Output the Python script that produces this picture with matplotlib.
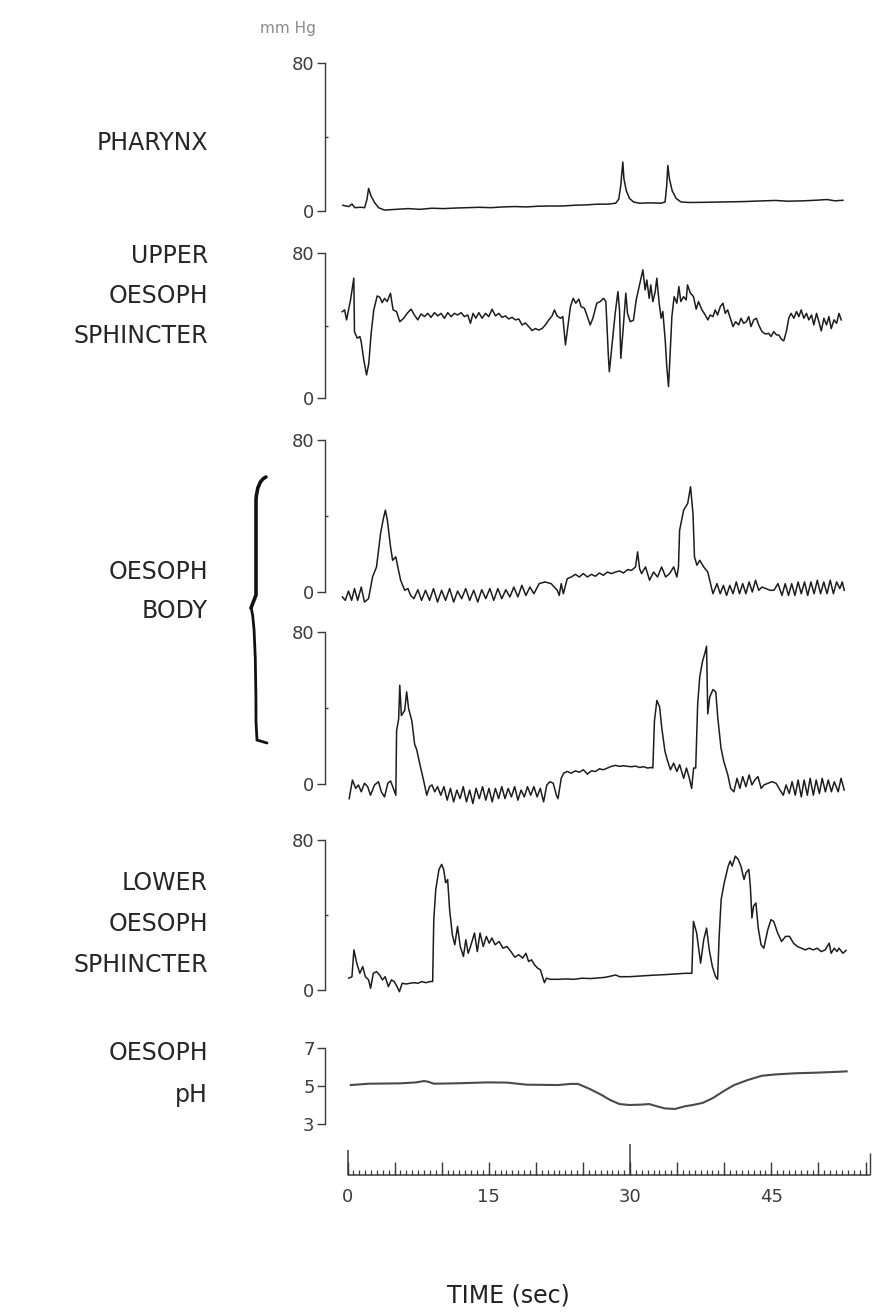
import numpy as np
import matplotlib
matplotlib.use("Agg")
import matplotlib.pyplot as plt
from matplotlib.path import Path
from matplotlib.patches import PathPatch

# ---------------- recorded traces (time in s, pressure in mm Hg / pH units) -------------
pharynx_t = [-0.49, -0.16, 0.14, 0.47, 0.77, 1.40, 1.82, 2.07, 2.24, 2.49, 2.87, 3.29, 3.92,
             5.17, 6.43, 7.69, 8.95, 10.21, 11.47, 12.73, 13.99, 15.24, 16.50, 17.76, 19.02,
             20.28, 21.54, 22.80, 24.06, 25.32, 26.58, 27.63, 28.47, 28.80, 29.01, 29.23, 29.35,
             29.60, 29.94, 30.36, 30.99, 32.04, 33.30, 33.72, 33.89, 34.01, 34.18, 34.47, 34.89,
             35.40, 36.23, 37.91, 40.01, 42.11, 44.20, 45.46, 46.72, 48.40, 49.66, 50.92, 51.76,
             52.60]
pharynx_p = [3.1, 2.7, 2.4, 3.8, 1.8, 2.0, 1.8, 6.4, 12.2, 8.2, 4.6, 1.8, 0.5,
             0.9, 1.3, 0.9, 1.5, 1.3, 1.6, 1.8, 2.0, 1.8, 2.2, 2.4, 2.2,
             2.6, 2.7, 2.7, 3.1, 3.3, 3.7, 3.7, 4.2, 6.4, 13.7, 26.5, 17.3,
             11.0, 6.8, 4.9, 4.2, 4.4, 4.2, 4.9, 13.7, 24.6, 17.3, 11.0, 6.8,
             4.9, 4.6, 4.7, 4.9, 5.1, 5.5, 5.7, 5.3, 5.5, 5.8, 6.2, 5.5,
             5.8]

ues_t = [-0.56, -0.31, -0.10, 0.14, 0.32, 0.67, 0.74, 1.03, 1.31, 1.45, 1.73, 2.02, 2.26,
         2.51, 2.79, 3.15, 3.43, 3.68, 3.93, 4.21, 4.56, 4.84, 5.20, 5.55, 5.97, 6.33, 6.75,
         7.10, 7.46, 7.81, 8.17, 8.52, 8.87, 9.23, 9.58, 9.93, 10.29, 10.64, 11.00, 11.35,
         11.70, 12.06, 12.41, 12.77, 13.05, 13.33, 13.62, 13.94, 14.29, 14.65, 15.00, 15.35,
         15.71, 16.06, 16.41, 16.77, 17.12, 17.47, 17.83, 18.18, 18.54, 18.89, 19.24, 19.60,
         19.95, 20.30, 20.66, 21.01, 21.37, 21.72, 21.97, 22.25, 22.61, 22.86, 23.14, 23.39,
         23.67, 23.96, 24.24, 24.56, 24.80, 25.16, 25.77, 26.05, 26.47, 26.83, 27.18, 27.43,
         27.70, 27.80, 28.07, 28.42, 28.71, 28.88, 29.02, 29.23, 29.55, 29.73, 30.01, 30.36,
         30.65, 31.00, 31.36, 31.60, 31.78, 32.03, 32.20, 32.42, 32.66, 32.84, 33.09, 33.30,
         33.48, 33.73, 33.90, 34.08, 34.19, 34.44, 34.68, 34.97, 35.18, 35.39, 35.68, 35.96,
         36.10, 36.39, 36.74, 37.02, 37.27, 37.63, 37.98, 38.26, 38.51, 38.80, 39.04, 39.29,
         39.58, 39.86, 40.11, 40.36, 40.64, 40.93, 41.21, 41.53, 41.78, 42.06, 42.35, 42.60,
         42.84, 43.13, 43.41, 43.66, 44.01, 44.37, 44.72, 44.97, 45.25, 45.54, 45.79, 46.07,
         46.32, 46.61, 46.85, 47.10, 47.39, 47.67, 47.92, 48.17, 48.45, 48.73, 48.98, 49.27,
         49.51, 49.80, 50.05, 50.30, 50.58, 50.86, 51.11, 51.36, 51.65, 51.93, 52.18, 52.42]
ues_p = [47.6, 48.6, 43.1, 49.5, 54.1, 66.1, 36.6, 33.0, 33.9, 31.1, 21.0, 12.7, 19.1,
         35.7, 48.6, 56.3, 55.6, 52.6, 55.0, 53.2, 57.8, 48.6, 47.7, 42.1, 44.0, 46.7, 49.0,
         45.8, 43.1, 46.4, 44.9, 46.7, 44.5, 47.1, 45.3, 46.7, 44.0, 47.1, 44.9, 46.7,
         45.8, 47.1, 44.9, 45.8, 41.2, 46.7, 44.0, 47.1, 44.0, 46.7, 44.9, 49.0,
         45.3, 46.7, 44.5, 45.3, 43.6, 44.5, 43.1, 43.6, 40.3, 41.4, 39.4, 37.2,
         38.3, 37.5, 38.3, 40.3, 43.1, 45.3, 48.6, 45.3, 44.0, 44.9, 29.3, 39.4,
         50.4, 55.0, 52.3, 54.5, 50.4, 49.5, 40.3, 44.0, 52.3, 53.2, 55.0, 53.2,
         22.8, 14.5, 28.3, 46.7, 58.7, 48.6, 21.9, 35.7, 57.8, 46.7, 42.1, 42.9,
         54.1, 62.4, 70.7, 59.6, 65.1, 55.0, 62.4, 53.2, 58.3, 66.1, 52.3, 44.0,
         47.7, 32.0, 17.3, 6.3, 17.3, 44.9, 55.9, 52.3, 61.5, 53.2, 55.9, 54.1,
         62.4, 58.0, 55.9, 49.0, 53.2, 48.6, 45.8, 43.1, 45.8, 44.9, 48.6, 45.8,
         50.4, 52.3, 46.7, 48.6, 44.0, 39.4, 42.1, 40.3, 44.0, 41.2, 42.1, 44.9,
         39.4, 43.1, 44.0, 40.3, 36.6, 35.3, 35.7, 33.9, 36.6, 34.8, 34.8, 32.4,
         31.5, 37.0, 44.0, 46.7, 44.0, 47.7, 44.9, 48.6, 44.0, 46.7, 43.1, 45.8,
         40.3, 46.7, 42.1, 37.0, 44.0, 40.3, 44.9, 38.3, 43.1, 41.2, 46.7, 43.1]

body_up_t = [-0.54, -0.24, 0.10, 0.44, 0.74, 1.08, 1.46, 1.80, 2.23, 2.66, 3.08, 3.51, 3.81,
             4.02, 4.23, 4.57, 4.79, 5.13, 5.34, 5.64, 6.07, 6.41, 6.71, 7.05, 7.47, 7.86,
             8.28, 8.71, 9.13, 9.56, 9.99, 10.41, 10.84, 11.27, 11.69, 12.12, 12.55, 12.97,
             13.40, 13.83, 14.25, 14.68, 15.11, 15.53, 15.96, 16.38, 16.81, 17.24, 17.66,
             18.09, 18.51, 18.94, 19.37, 19.79, 20.35, 20.98, 21.62, 22.27, 22.48, 22.69,
             22.91, 23.33, 23.76, 24.19, 24.61, 25.04, 25.47, 25.89, 26.32, 26.75, 27.17,
             27.60, 28.02, 28.45, 28.88, 29.30, 29.73, 30.16, 30.58, 30.80, 31.01, 31.22,
             31.64, 32.07, 32.50, 32.92, 33.35, 33.78, 34.20, 34.63, 34.97, 35.14, 35.26,
             35.69, 36.12, 36.42, 36.68, 36.84, 37.10, 37.40, 37.82, 38.25, 38.55, 38.80,
             39.23, 39.57, 39.91, 40.25, 40.59, 40.93, 41.28, 41.62, 41.96, 42.30, 42.64,
             42.98, 43.32, 43.66, 44.00, 44.43, 44.85, 45.28, 45.70, 46.13, 46.47, 46.82,
             47.16, 47.50, 47.84, 48.18, 48.52, 48.86, 49.20, 49.54, 49.88, 50.23, 50.57,
             50.91, 51.25, 51.59, 51.93, 52.27, 52.53, 52.74]
body_up_p = [-2.6, -4.4, 0.5, -4.4, 1.8, -4.4, 2.6, -5.3, -3.5, 7.9, 13.2, 30.8, 38.7,
             43.1, 37.8, 23.7, 16.7, 18.5, 13.2, 6.2, 0.9, 1.8, -1.8, -3.5, 1.2, -4.4,
             0.9, -4.4, 1.8, -5.3, 0.9, -4.4, 1.8, -5.3, 0.5, -3.5, 1.8, -4.4,
             0.9, -5.3, 1.2, -3.5, 1.8, -4.4, 1.8, -3.5, 1.2, -2.6, 2.6,
             -2.6, 3.5, -1.8, 2.6, -0.9, 4.4, 5.3, 4.4, 0.9, -1.8, 4.4,
             -0.9, 7.0, 7.9, 9.3, 7.9, 9.7, 7.9, 9.3, 8.3, 10.0, 8.8,
             10.5, 9.7, 10.5, 11.1, 10.0, 11.8, 11.4, 13.2, 21.1, 12.3, 9.7,
             13.2, 6.2, 10.5, 7.9, 13.2, 7.9, 9.7, 13.2, 7.9, 13.2, 32.5,
             43.1, 46.6, 55.4, 41.3, 18.5, 14.1, 16.7, 13.2, 10.5, 4.4, -0.9,
             4.4, -0.9, 3.5, -1.8, 3.5, -0.9, 5.3, -0.9, 4.4, -0.9, 5.3,
             0.0, 6.2, 0.9, 2.6, 1.8, 0.9, 0.9, 4.4, -1.8, 4.4, -1.8,
             4.4, -1.8, 5.3, -0.9, 5.3, -1.8, 5.3, -0.9, 6.2, -0.9, 5.3,
             -0.9, 6.2, -0.9, 5.3, 1.8, 5.3, 0.9]

body_lo_t = [0.18, 0.52, 0.87, 1.16, 1.46, 1.80, 2.14, 2.44, 2.87, 3.29, 3.59, 3.93, 4.28,
             4.57, 4.87, 5.13, 5.21, 5.43, 5.55, 5.72, 6.07, 6.28, 6.49, 6.83, 7.13, 7.34,
             7.69, 8.11, 8.41, 8.71, 8.97, 9.26, 9.56, 9.90, 10.24, 10.58, 10.93, 11.27,
             11.61, 11.95, 12.29, 12.63, 12.97, 13.31, 13.65, 13.99, 14.34, 14.68, 15.02,
             15.36, 15.70, 16.04, 16.38, 16.72, 17.06, 17.40, 17.75, 18.09, 18.43, 18.77,
             19.11, 19.45, 19.79, 20.13, 20.47, 20.82, 21.16, 21.50, 21.84, 22.18, 22.35,
             22.52, 22.69, 22.95, 23.33, 23.76, 24.19, 24.61, 25.04, 25.47, 25.89, 26.32,
             26.75, 27.17, 27.60, 28.02, 28.45, 28.88, 29.30, 29.73, 30.16, 30.58, 31.01,
             31.43, 31.86, 32.29, 32.42, 32.59, 32.85, 33.14, 33.36, 33.70, 34.00, 34.29,
             34.63, 34.97, 35.26, 35.69, 35.99, 36.25, 36.54, 36.75, 36.97, 37.18, 37.40,
             37.69, 37.95, 38.12, 38.25, 38.46, 38.80, 39.10, 39.31, 39.65, 39.95, 40.38,
             40.68, 41.02, 41.36, 41.66, 41.96, 42.30, 42.64, 42.94, 43.24, 43.58, 43.92,
             44.22, 44.64, 45.07, 45.50, 45.92, 46.27, 46.56, 46.90, 47.20, 47.54, 47.84,
             48.18, 48.48, 48.82, 49.12, 49.46, 49.76, 50.10, 50.40, 50.74, 51.04, 51.38,
             51.68, 52.10, 52.40, 52.74]
body_lo_p = [-7.7, 2.1, -2.3, -0.5, -4.1, 0.4, -1.4, -5.9, -0.5, 1.2, -4.1, -6.8, 0.4,
             1.6, -2.3, -5.9, 28.0, 34.2, 52.0, 36.0, 38.7, 48.5, 39.6, 33.3, 20.8, 18.2,
             10.2, 1.2, -5.9, -1.4, -0.5, -4.1, -1.4, -5.9, -1.4, -8.5, -2.3, -9.4,
             -3.2, -7.7, -1.4, -9.4, -3.2, -10.3, -2.3, -7.7, -1.4, -8.5, -2.3,
             -9.4, -2.3, -7.7, -1.4, -7.7, -2.3, -6.8, -1.4, -8.5, -3.2, -6.8,
             -1.4, -5.9, -1.4, -6.8, -2.3, -9.4, -0.5, 1.2, 0.4, -5.9, -7.7,
             -2.3, 3.0, 5.7, 6.6, 5.7, 6.9, 6.2, 7.5, 5.2, 6.9, 6.6,
             8.0, 7.5, 8.4, 9.3, 9.8, 9.3, 9.6, 9.3, 9.1, 9.4, 8.7,
             9.1, 8.4, 8.7, 8.4, 33.3, 44.0, 40.5, 29.8, 17.3, 11.9, 7.5,
             11.0, 6.6, 10.2, 3.0, 8.4, 3.9, -2.3, 8.4, 8.4, 42.2, 56.5,
             64.5, 69.0, 72.5, 36.9, 45.8, 49.7, 48.5, 35.1, 19.1, 11.9, 4.8,
             -2.3, -4.1, 3.0, -2.3, 3.9, -1.4, 4.8, -0.5, 2.1, 3.9, -2.3,
             -0.5, 0.4, 1.2, 0.4, -3.2, -5.9, -0.5, -5.0, 1.2, -5.9, 2.1,
             -6.8, 2.1, -5.9, 3.0, -5.9, 2.1, -5.0, 3.0, -4.1, 2.1, -4.1,
             1.2, -4.1, 3.0, -3.2]

les_t = [0.14, 0.47, 0.68, 0.98, 1.31, 1.61, 1.90, 2.24, 2.45, 2.74, 3.08, 3.41, 3.71,
         4.00, 4.34, 4.67, 4.96, 5.26, 5.51, 5.80, 6.22, 6.64, 7.06, 7.48, 7.90, 8.32,
         8.74, 9.04, 9.16, 9.37, 9.71, 10.00, 10.21, 10.42, 10.63, 10.84, 11.13, 11.39,
         11.68, 11.97, 12.31, 12.56, 12.81, 13.06, 13.48, 13.78, 14.07, 14.41, 14.74,
         15.04, 15.33, 15.67, 16.09, 16.51, 16.93, 17.35, 17.76, 18.18, 18.60, 18.94,
         19.23, 19.53, 19.86, 20.20, 20.49, 20.70, 20.91, 21.12, 21.54, 22.38, 23.22,
         24.06, 24.90, 25.74, 26.58, 27.42, 28.47, 28.89, 29.94, 31.20, 32.46, 33.72,
         34.98, 35.81, 36.56, 36.73, 37.07, 37.49, 37.82, 38.12, 38.41, 38.74, 39.08,
         39.29, 39.46, 39.67, 40.00, 40.42, 40.63, 40.84, 41.18, 41.47, 41.77, 42.10,
         42.31, 42.61, 42.77, 42.94, 43.11, 43.36, 43.61, 43.91, 44.20, 44.62, 44.96,
         45.25, 45.67, 46.09, 46.51, 46.93, 47.35, 47.77, 48.19, 48.61, 49.03, 49.45,
         49.87, 50.30, 50.72, 51.14, 51.35, 51.68, 51.97, 52.18, 52.60, 52.93]
les_p = [6.3, 7.1, 21.4, 14.3, 8.9, 12.5, 7.1, 5.4, 0.9, 8.9, 9.8, 8.0, 5.4,
         7.1, 1.8, 5.4, 4.5, 1.8, -0.9, 3.6, 3.2, 3.6, 3.9, 3.6, 4.5, 3.9,
         4.5, 4.5, 37.5, 53.6, 64.3, 67.0, 64.3, 57.2, 58.9, 42.9, 29.5, 24.1,
         33.9, 23.2, 17.9, 26.8, 19.6, 23.2, 30.4, 20.5, 30.4, 23.2, 28.6,
         25.0, 27.7, 24.1, 25.9, 22.3, 23.2, 20.5, 17.5, 18.8, 17.0, 19.6,
         15.2, 16.1, 13.4, 11.6, 10.7, 7.1, 3.9, 6.3, 5.7, 5.7, 5.9,
         5.7, 6.3, 6.1, 6.4, 6.8, 8.0, 7.1, 7.1, 7.5, 7.9, 8.2,
         8.6, 8.9, 8.9, 36.6, 30.4, 14.3, 26.8, 33.0, 21.4, 12.5, 7.1,
         5.7, 28.6, 48.2, 57.2, 66.1, 68.8, 66.1, 71.4, 69.7, 66.1, 58.9,
         62.5, 64.3, 55.4, 38.4, 44.7, 46.4, 33.0, 24.1, 22.3, 32.1, 37.5,
         36.6, 30.4, 25.9, 28.6, 28.6, 25.0, 23.2, 22.3, 21.4, 22.3, 21.4,
         22.3, 20.5, 21.4, 25.0, 19.6, 22.3, 20.5, 22.3, 19.6, 21.1]

ph_t = [0.35, 2.24, 5.60, 7.28, 8.12, 8.54, 9.17, 11.47, 14.83, 16.92, 19.02, 22.37, 23.63,
        24.47, 25.74, 26.97, 27.82, 28.87, 29.92, 31.19, 32.03, 32.86, 33.71, 34.76, 35.81,
        36.65, 37.70, 38.74, 40.00, 41.05, 42.52, 43.99, 45.46, 47.56, 49.66, 51.76, 53.00]
ph_v = [5.05, 5.12, 5.14, 5.19, 5.26, 5.23, 5.12, 5.14, 5.19, 5.18, 5.07, 5.05, 5.11,
        5.11, 4.84, 4.53, 4.28, 4.05, 4.00, 4.02, 4.05, 3.93, 3.82, 3.79, 3.93,
        4.00, 4.11, 4.35, 4.75, 5.05, 5.32, 5.54, 5.61, 5.67, 5.70, 5.74, 5.77]

pressure_ticks = [0, 80]
ph_ticks = [3, 5, 7]
time_labels = [0, 15, 30, 45]

# ---------------- figure layout (pixel geometry of an 874 x 1316 page) -------------
W, H = 874, 1316
fig = plt.figure(figsize=(W / 100, H / 100), dpi=100)
fig.patch.set_facecolor("white")

T_LEFT, T_RIGHT = -2.39, 55.9          # time span covered by the panel width
AX_L = 325 / W
AX_W = 1 - AX_L
INK = "#1d1d1d"
GREY = "#3a3a3a"


def fy(px):
    return 1 - px / H


def make_panel(top_px, bot_px, lo, hi, ticks):
    ax = fig.add_axes([AX_L, 1 - bot_px / H, AX_W, (bot_px - top_px) / H])
    ax.set_xlim(T_LEFT, T_RIGHT)
    ax.set_ylim(lo, hi)
    for side in ("top", "right", "bottom"):
        ax.spines[side].set_visible(False)
    ax.spines["left"].set_color(GREY)
    ax.spines["left"].set_linewidth(1.0)
    ax.set_xticks([])
    ax.set_yticks(ticks)
    ax.set_yticklabels([str(v) for v in ticks])
    ax.tick_params(axis="y", direction="out", length=5.5, width=1.0, color=GREY,
                   labelsize=13, labelcolor="#3c3c3c", pad=2)
    ax.patch.set_alpha(0)
    return ax


def trace(ax, t, v, **kw):
    style = dict(color=INK, lw=1.1, clip_on=False, solid_joinstyle="round")
    style.update(kw)
    ax.plot(t, v, **style)


panels = [
    (63, 211, pharynx_t, pharynx_p),
    (253, 398, ues_t, ues_p),
    (440, 592, body_up_t, body_up_p),
    (632, 784, body_lo_t, body_lo_p),
    (840, 990, les_t, les_p),
]
for top, bot, t, p in panels:
    ax = make_panel(top, bot, 0, 80, pressure_ticks)
    ax.set_yticks([40], minor=True)
    ax.tick_params(axis="y", which="minor", direction="in", length=2, width=1.0, color=GREY)
    trace(ax, t, p)

ax_ph = make_panel(1048, 1124, 3, 7, ph_ticks)
trace(ax_ph, ph_t, ph_v, color="#4a4a4a", lw=1.5)

# ---------------- time scale -------------
base_px, top_px = 1175, 1135
ax_t = fig.add_axes([AX_L, fy(base_px + 5), AX_W, (base_px + 5 - top_px) / H])
ax_t.set_xlim(T_LEFT, T_RIGHT)
ax_t.set_ylim(-5, base_px - top_px)
ax_t.axis("off")
T_END = 55.5
ax_t.plot([0, T_END], [0, 0], color=GREY, lw=1.1, solid_capstyle="butt")
small = np.arange(0, T_END, 0.625)
ax_t.vlines(small, 0, 5, color=GREY, lw=0.9)
medium = np.arange(0, T_END, 5.0)
ax_t.vlines(medium, 0, 13, color=GREY, lw=1.0)
ax_t.vlines([0], 0, 25, color=GREY, lw=1.1)
ax_t.vlines([30], 0, 31, color=GREY, lw=1.1)
ax_t.vlines([T_END], 0, 22, color=GREY, lw=1.0)
for s in time_labels:
    ax_t.text(s, -22, str(s), ha="center", va="center", fontsize=13,
              color="#3c3c3c", clip_on=False)

fig.text(508 / W, fy(1296), "TIME (sec)", ha="center", va="center",
         fontsize=17, color="#222222")

# ---------------- channel names -------------
fig.text(288 / W, fy(28), "mm Hg", ha="center", va="center", fontsize=11,
         color="#8a8a8a")

names = [
    ("PHARYNX", 143),
    ("UPPER", 256), ("OESOPH", 296), ("SPHINCTER", 336),
    ("OESOPH", 572), ("BODY", 611),
    ("LOWER", 883), ("OESOPH", 924), ("SPHINCTER", 965),
    ("OESOPH", 1053), ("pH", 1095),
]
for text, ypx in names:
    fig.text(208 / W, fy(ypx), text, ha="right", va="center", fontsize=17,
             color="#262626")

# ---------------- brace grouping the two body channels -------------
def fp(x, y):
    return (x / W, fy(y))

upper = [fp(266, 477), fp(257, 481), fp(256, 500), fp(256, 595), fp(251, 608)]
lower = [fp(251, 608), fp(256, 620), fp(256, 722), fp(257, 740), fp(267, 743)]
codes = [Path.MOVETO, Path.CURVE3, Path.CURVE3, Path.LINETO, Path.LINETO]
fig.patches.append(PathPatch(Path(upper, codes), fill=False, lw=2.6, ec="#111111",
                             transform=fig.transFigure, capstyle="round"))
fig.patches.append(PathPatch(Path(lower, codes), fill=False, lw=2.0, ec="#111111",
                             transform=fig.transFigure, capstyle="round"))

fig.savefig("out.png", dpi=100, facecolor="white")
